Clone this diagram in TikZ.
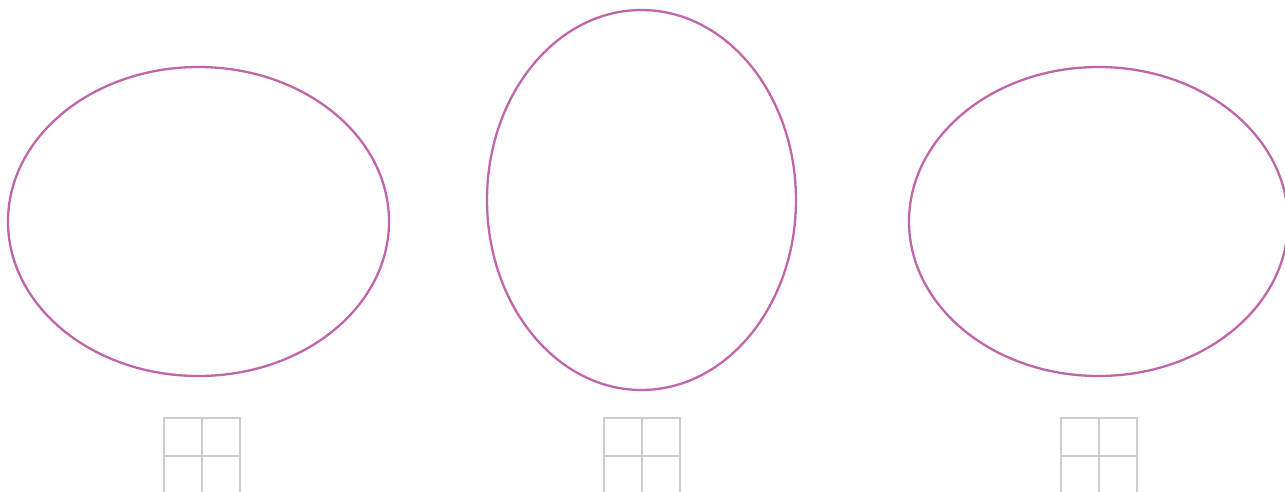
\documentclass[tikz,border=0pt]{standalone}
\definecolor{ellcol}{HTML}{C066A8}
\definecolor{gridcol}{HTML}{CCCCCC}
\tikzset{
  ell/.style={draw=ellcol, line width=2.3pt},
  gridlines/.style={draw=gridcol, line width=1.8pt}
}
\begin{document}
\begin{tikzpicture}[x=1pt,y=-1pt]
\useasboundingbox (0,0) rectangle (1285,492);
\draw[ell] (198.5,221.5) ellipse [x radius=190.5, y radius=154.5];
\draw[ell] (641.5,200) ellipse [x radius=154.5, y radius=190];
\draw[ell] (1098.5,221.5) ellipse [x radius=189.5, y radius=154.5];
\foreach \gx in {164,604,1061}{
  \draw[gridlines] (\gx,500) -- (\gx,418) -- (\gx+76,418) -- (\gx+76,500);
  \draw[gridlines] (\gx+38,418) -- (\gx+38,500);
  \draw[gridlines] (\gx,456) -- (\gx+76,456);
}
\end{tikzpicture}
\end{document}
